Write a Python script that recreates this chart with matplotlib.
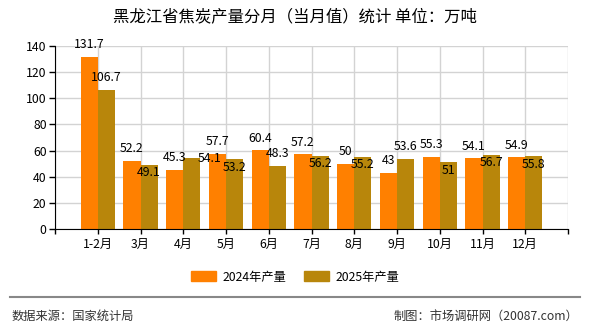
import matplotlib
matplotlib.use('Agg')
import matplotlib.pyplot as plt
from matplotlib.lines import Line2D
from matplotlib.patches import Patch
import numpy as np

plt.rcParams['font.family'] = ['Noto Sans CJK SC', 'DejaVu Sans']

# data
months = ['1-2月', '3月', '4月', '5月', '6月', '7月', '8月', '9月', '10月', '11月', '12月']
prod_2024 = [131.7, 52.2, 45.3, 57.7, 60.4, 57.2, 50, 43, 55.3, 54.1, 54.9]
prod_2025 = [106.7, 49.1, 54.1, 53.2, 48.3, 56.2, 55.2, 53.6, 51, 56.7, 55.8]
series_names = ['2024年产量', '2025年产量']
yticks = [0, 20, 40, 60, 80, 100, 120, 140]

# label placement for 2025 values (as in the source chart)
place_2025 = ['above', 'inside', 'right', 'inside', 'above', 'inside',
              'inside', 'above', 'inside', 'inside', 'inside']

c24 = '#FF8000'
c25 = '#B8860B'

fig = plt.figure(figsize=(5.9, 3.3), dpi=100)
ax = fig.add_axes([55/590, 1-229/330, 513/590, 183/330])

x = np.arange(len(months))
w = 0.4
b1 = ax.bar(x - w/2, prod_2024, width=w, color=c24, zorder=3)
b2 = ax.bar(x + w/2, prod_2025, width=w, color=c25, zorder=3)

ax.set_xlim(-1, 11)
ax.set_ylim(0, 140)
ax.set_yticks(yticks)
ax.set_xticks(x)
ax.set_xticklabels(months, fontsize=8.8)
ax.set_xticks([-1, 11], minor=True)
ax.tick_params(axis='both', which='both', length=4, width=1, colors='black', labelsize=8.8, pad=2)
ax.tick_params(axis='x', which='both', length=3.5, pad=3)

# vertical grid at every integer position
for gx in range(-1, 12):
    ax.axvline(gx, color='#d3d3d3', lw=1, zorder=1)
ax.yaxis.grid(True, color='#d3d3d3', lw=1, zorder=1)
ax.set_axisbelow(True)
for s in ['top', 'right']:
    ax.spines[s].set_visible(False)
ax.spines['left'].set_color('black')
ax.spines['bottom'].set_color('black')
ax.spines['left'].set_zorder(4)
ax.spines['bottom'].set_zorder(4)

# value labels
for xi, v in zip(x, prod_2024):
    ax.annotate('{:g}'.format(v), (xi - w/2, v), xytext=(0, 8.6), textcoords='offset points',
                ha='center', va='center', fontsize=8.8, zorder=5)
for xi, v, p in zip(x, prod_2025, place_2025):
    if p == 'above':
        off = (0, 8.6)
    elif p == 'right':
        off = (13, 0)
    else:
        off = (0, -5.8)
    ax.annotate('{:g}'.format(v), (xi + w/2, v), xytext=off, textcoords='offset points',
                ha='center', va='center', fontsize=8.8, zorder=5)

fig.text(0.5, 1-17/330, '黑龙江省焦炭产量分月（当月值）统计 单位：万吨',
         ha='center', va='center', fontsize=11.8)

handles = [Patch(color=c24), Patch(color=c25)]
fig.legend(handles, series_names, loc='center', bbox_to_anchor=(0.5, 1-277/330), ncol=2,
           frameon=False, fontsize=8.8, handlelength=2.1, handleheight=0.9,
           handletextpad=0.5, columnspacing=1.4)

fig.add_artist(Line2D([10/590, 580/590], [1-297/330, 1-297/330], color='#888888', lw=1.5))
fig.text(12/590, 1-316/330, '数据来源：国家统计局', ha='left', va='center', fontsize=8.8, color='#333333')
fig.text(578/590, 1-316/330, '制图：市场调研网（20087.com）', ha='right', va='center', fontsize=8.8, color='#333333')

fig.savefig('out.png', dpi=100)
